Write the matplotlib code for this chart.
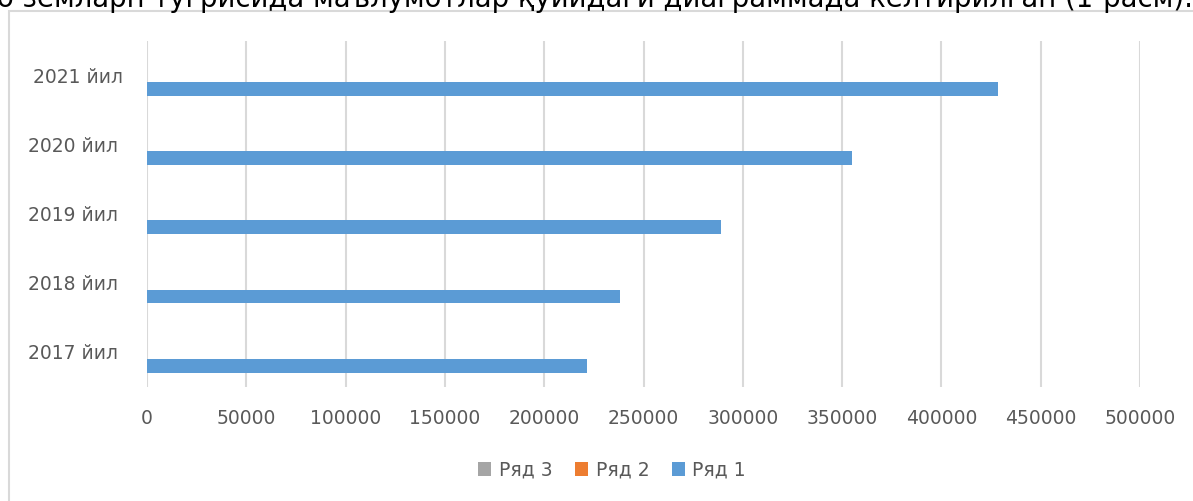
import numpy as np
import matplotlib
matplotlib.use('Agg')
import matplotlib.pyplot as plt
from matplotlib.patches import Rectangle
from matplotlib.transforms import ScaledTranslation

plt.rcParams['font.family'] = ['DejaVu Sans']

# dados
anos = ['2017 йил', '2018 йил', '2019 йил', '2020 йил', '2021 йил']
ryad1 = [221600, 238200, 289000, 355000, 428500]
ryad2 = [0, 0, 0, 0, 0]
ryad3 = [0, 0, 0, 0, 0]
series_nomes = ['Ряд 1', 'Ряд 2', 'Ряд 3']
cores = ['#5B9BD5', '#ED7D31', '#A5A5A5']
texto_topo = 'о земларн тугрисида маълумотлар қуйидаги диаграммада келтирилган (1-расм).'

W, H = 1193, 501
fig = plt.figure(figsize=(W / 100, H / 100), dpi=100)

# borda da área do gráfico (cortada à direita e embaixo)
fig.patches.append(Rectangle((8.5 / W, -0.2), 1.5, 1.2 - 10.5 / H,
                             transform=fig.transFigure, fill=False,
                             edgecolor='#D9D9D9', linewidth=1.5))

# texto do documento cortado no topo (só a parte de baixo aparece)
fig.text(-3 / W, 1 - 7 / H, texto_topo, fontsize=19.8, va='baseline',
         ha='left', color='black')

ax = fig.add_axes([147 / W, 1 - 386.5 / H, (1140 - 147) / W, (386.5 - 40.5) / H])

y = np.arange(len(anos))
larg = 0.2
handles = []
for i, (vals, nome, cor) in enumerate(zip([ryad1, ryad2, ryad3], series_nomes, cores)):
    b = ax.barh(y + (i - 1) * larg, vals, height=larg, color=cor,
                linewidth=0, label=nome, zorder=3)
    handles.append(b)

ax.set_xlim(0, 500000)
ax.set_ylim(-0.5, len(anos) - 0.5)
ax.set_xticks(np.arange(0, 500001, 50000))
ax.set_xticklabels([str(v) for v in range(0, 500001, 50000)])
ax.set_yticks(y)
ax.set_yticklabels(anos)
ax.grid(axis='x', color='#D9D9D9', linewidth=1.5, zorder=0)
for s in ax.spines.values():
    s.set_visible(False)
ax.tick_params(axis='x', length=0, pad=16, labelsize=13.5, labelcolor='#595959')
ax.tick_params(axis='y', length=0, pad=21, labelsize=13.5, labelcolor='#595959')

# rótulo de 2021 um pouco deslocado para a direita, como no original
lab = ax.get_yticklabels()[-1]
lab.set_transform(lab.get_transform() + ScaledTranslation(5 / 100, 0, fig.dpi_scale_trans))

fig.legend(handles[::-1], series_nomes[::-1], loc='center',
           bbox_to_anchor=(612 / W, 1 - 470 / H), ncol=3, frameon=False,
           fontsize=13.5, labelcolor='#595959', handlelength=0.7,
           handleheight=0.7, handletextpad=0.4, columnspacing=1.2)

fig.savefig('out.png', dpi=100)
